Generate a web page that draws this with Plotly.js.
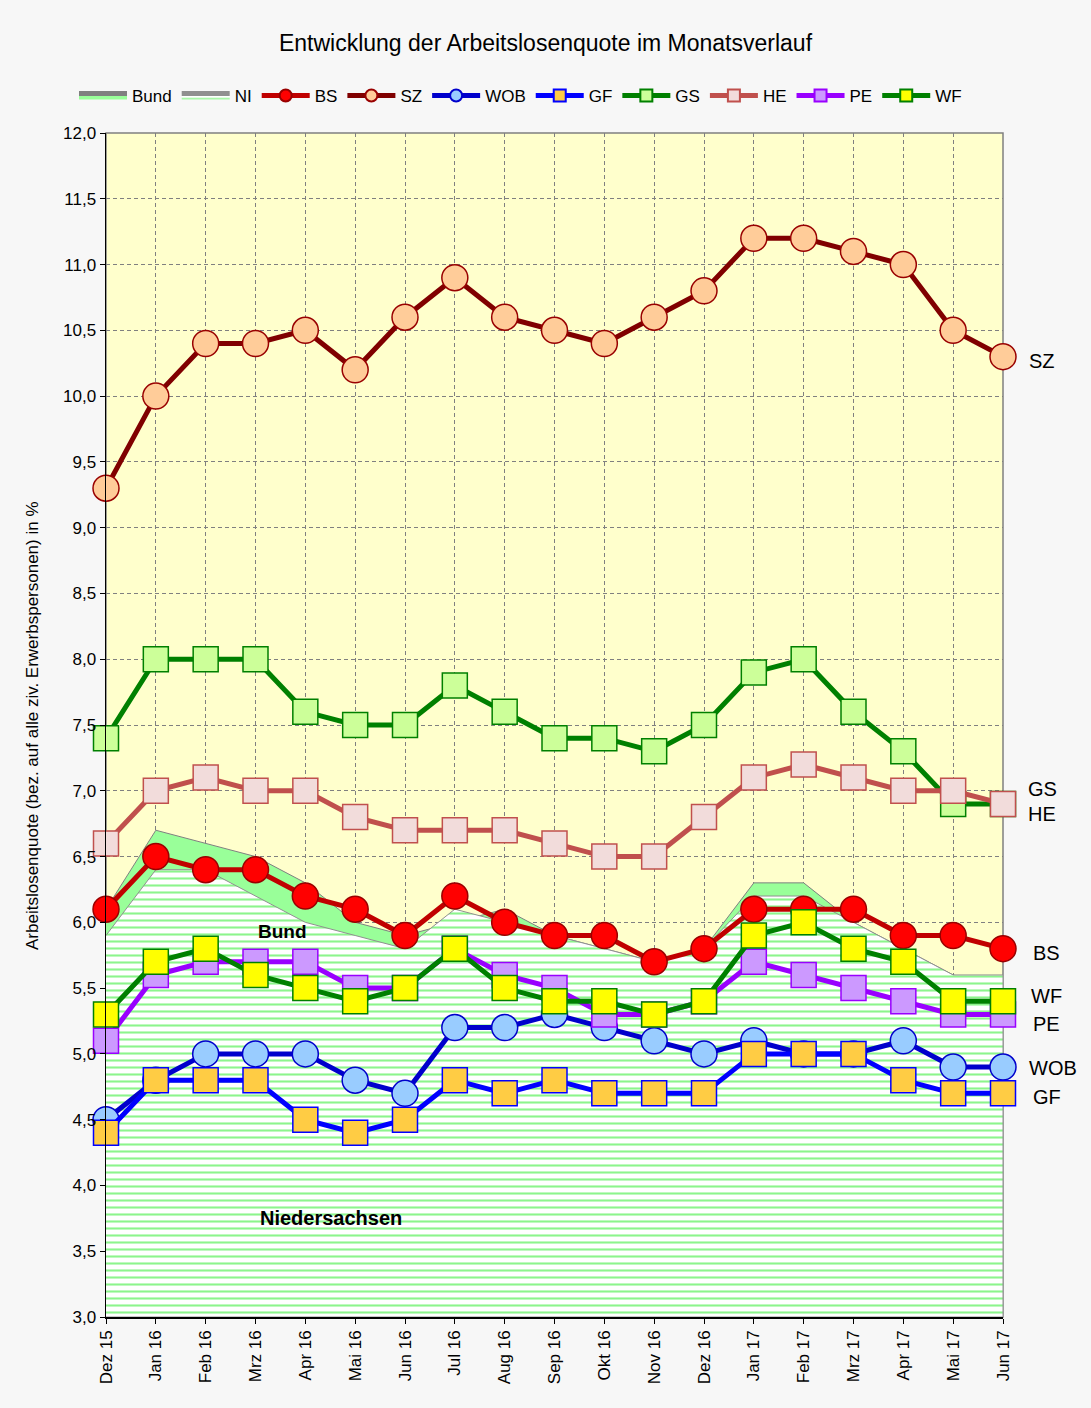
<!DOCTYPE html>
<html>
<head>
<meta charset="utf-8">
<script src="https://cdn.plot.ly/plotly-3.0.1.min.js"></script>
<style>
html,body{margin:0;padding:0;background:#ffffff;}
#chart{width:1091px;height:1408px;}
</style>
</head>
<body>
<div id="chart"></div>
<script>
const months = ["Dez 15","Jan 16","Feb 16","Mrz 16","Apr 16","Mai 16","Jun 16","Jul 16","Aug 16","Sep 16","Okt 16","Nov 16","Dez 16","Jan 17","Feb 17","Mrz 17","Apr 17","Mai 17","Jun 17"];

const bund = [6.1,6.7,6.6,6.5,6.3,6.0,5.9,6.0,6.1,5.9,5.8,5.7,5.8,6.3,6.3,6.0,5.8,5.6,5.5];
const ni   = [5.9,6.4,6.4,6.2,6.0,5.9,5.8,6.1,6.0,5.9,5.8,5.7,5.8,6.2,6.2,6.0,5.8,5.6,5.6];

const bs  = [6.1,6.5,6.4,6.4,6.2,6.1,5.9,6.2,6.0,5.9,5.9,5.7,5.8,6.1,6.1,6.1,5.9,5.9,5.8];
const sz  = [9.3,10.0,10.4,10.4,10.5,10.2,10.6,10.9,10.6,10.5,10.4,10.6,10.8,11.2,11.2,11.1,11.0,10.5,10.3];
const wob = [4.5,4.8,5.0,5.0,5.0,4.8,4.7,5.2,5.2,5.3,5.2,5.1,5.0,5.1,5.0,5.0,5.1,4.9,4.9];
const gf  = [4.4,4.8,4.8,4.8,4.5,4.4,4.5,4.8,4.7,4.8,4.7,4.7,4.7,5.0,5.0,5.0,4.8,4.7,4.7];
const gs  = [7.4,8.0,8.0,8.0,7.6,7.5,7.5,7.8,7.6,7.4,7.4,7.3,7.5,7.9,8.0,7.6,7.3,6.9,6.9];
const he  = [6.6,7.0,7.1,7.0,7.0,6.8,6.7,6.7,6.7,6.6,6.5,6.5,6.8,7.1,7.2,7.1,7.0,7.0,6.9];
const pe  = [5.1,5.6,5.7,5.7,5.7,5.5,5.5,5.8,5.6,5.5,5.3,5.3,5.4,5.7,5.6,5.5,5.4,5.3,5.3];
const wf  = [5.3,5.7,5.8,5.6,5.5,5.4,5.5,5.8,5.5,5.4,5.4,5.3,5.4,5.9,6.0,5.8,5.7,5.4,5.4];

const yTicks = [3.0,3.5,4.0,4.5,5.0,5.5,6.0,6.5,7.0,7.5,8.0,8.5,9.0,9.5,10.0,10.5,11.0,11.5,12.0];
const yMin = 3.0, yMax = 12.0;

const FONT = "Liberation Sans, Arial, sans-serif";

// closed polygon (area down to the axis minimum) built from a series
function areaPoly(vals) {
  const xs = months.concat(months.slice().reverse());
  const ys = vals.concat(months.map(() => yMin));
  return {x: xs, y: ys};
}

function lineTrace(name, y, lineColor, symbol, fill, border, size) {
  return {
    type: "scatter", mode: "lines+markers", name: name, x: months, y: y,
    line: {color: lineColor, width: 5},
    marker: {symbol: symbol, size: size, color: fill, line: {color: border, width: 1.5}},
    cliponaxis: false
  };
}

const bundPoly = areaPoly(bund);
const niPoly = areaPoly(ni);

const traces = [
  {type:"scatter", mode:"lines", name:"Bund", x: bundPoly.x, y: bundPoly.y, fill:"toself",
   fillcolor:"#99ff99", line:{color:"#808080", width:1}},
  {type:"scatter", mode:"lines", name:"NI", x: niPoly.x, y: niPoly.y, fill:"toself",
   fillcolor:"#ffffff", line:{color:"#909090", width:1},
   fillpattern:{shape:"-", fgcolor:"#8cf58c", bgcolor:"#ffffff", size:7, solidity:0.3}},
  lineTrace("BS", bs, "#c00000", "circle", "#ff0000", "#990000", 26),
  lineTrace("SZ", sz, "#800000", "circle", "#ffcc99", "#990000", 26),
  lineTrace("WOB", wob, "#0000cc", "circle", "#99ccff", "#0000cc", 26),
  lineTrace("GF", gf, "#0000ff", "square", "#ffcc44", "#0000ff", 25),
  lineTrace("GS", gs, "#008000", "square", "#ccff99", "#008000", 25),
  lineTrace("HE", he, "#c0504d", "square", "#f2dcdb", "#c0504d", 25),
  lineTrace("PE", pe, "#9900ff", "square", "#cc99ff", "#9900ff", 25),
  lineTrace("WF", wf, "#008000", "square", "#ffff00", "#008000", 25)
];

const rightLabels = [
  {t:"SZ", x:1.0435, y:10.27},
  {t:"GS", x:1.0435, y:7.01},
  {t:"HE", x:1.0435, y:6.82},
  {t:"BS", x:1.049, y:5.77},
  {t:"WF", x:1.049, y:5.44},
  {t:"PE", x:1.049, y:5.23},
  {t:"WOB", x:1.056, y:4.89},
  {t:"GF", x:1.049, y:4.67}
];

const annotations = rightLabels.map(l => ({
  text: l.t, xref:"paper", yref:"y", x:l.x, y:l.y, xanchor:"center", yanchor:"middle",
  showarrow:false, font:{family:FONT, size:20, color:"#000"}
}));
annotations.push({text:"<b>Bund</b>", xref:"x", yref:"y", x:3.55, y:5.93, showarrow:false,
  xanchor:"center", yanchor:"middle", font:{family:FONT, size:19, color:"#000"}});
annotations.push({text:"<b>Niedersachsen</b>", xref:"x", yref:"y", x:4.52, y:3.75, showarrow:false,
  xanchor:"center", yanchor:"middle", font:{family:FONT, size:20, color:"#000"}});
annotations.push({text:"Arbeitslosenquote (bez. auf alle ziv. Erwerbspersonen) in %", xref:"paper", yref:"paper",
  x:-0.0825, y:0.5, textangle:-90, showarrow:false, xanchor:"center", yanchor:"middle",
  font:{family:FONT, size:17, color:"#000"}});

const layout = {
  width:1091, height:1408,
  margin:{l:106, r:88, t:133, b:91},
  paper_bgcolor:"#f7f7f7",
  plot_bgcolor:"#ffffcc",
  separators:",.",
  showlegend:true,
  title:{text:"Entwicklung der Arbeitslosenquote im Monatsverlauf", x:0.5, xanchor:"center",
         y:1-43/1408, yanchor:"middle", font:{family:FONT, size:23, color:"#000"}},
  font:{family:FONT, color:"#000"},
  legend:{orientation:"h", xref:"container", yref:"container", x:74/1091, xanchor:"left",
          y:1-96/1408, yanchor:"middle",
          font:{family:FONT, size:17, color:"#000"}, bgcolor:"rgba(0,0,0,0)",
          itemsizing:"constant", itemwidth:48, tracegroupgap:0},
  xaxis:{type:"category", range:[0,18], showgrid:true, gridcolor:"#808080", griddash:"4px,3px", gridwidth:1,
         showline:true, linecolor:"#000", linewidth:1.5, ticks:"outside", ticklen:5, tickcolor:"#000",
         tickangle:-90, tickfont:{family:FONT, size:17, color:"#000"}, zeroline:false, fixedrange:true},
  yaxis:{range:[yMin,yMax], tickvals:yTicks, tickformat:".1f", showgrid:true, gridcolor:"#808080",
         griddash:"4px,3px", gridwidth:1, showline:true, linecolor:"#000", linewidth:1.5,
         ticks:"outside", ticklen:5, tickcolor:"#000", tickfont:{family:FONT, size:17, color:"#000"},
         zeroline:false, fixedrange:true},
  shapes:[{type:"rect", xref:"paper", yref:"paper", x0:0, x1:1, y0:0, y1:1,
           line:{color:"#808080", width:1.5}, layer:"below"}],
  annotations: annotations
};

Plotly.newPlot("chart", traces, layout, {displayModeBar:false, staticPlot:true});
</script>
</body>
</html>
